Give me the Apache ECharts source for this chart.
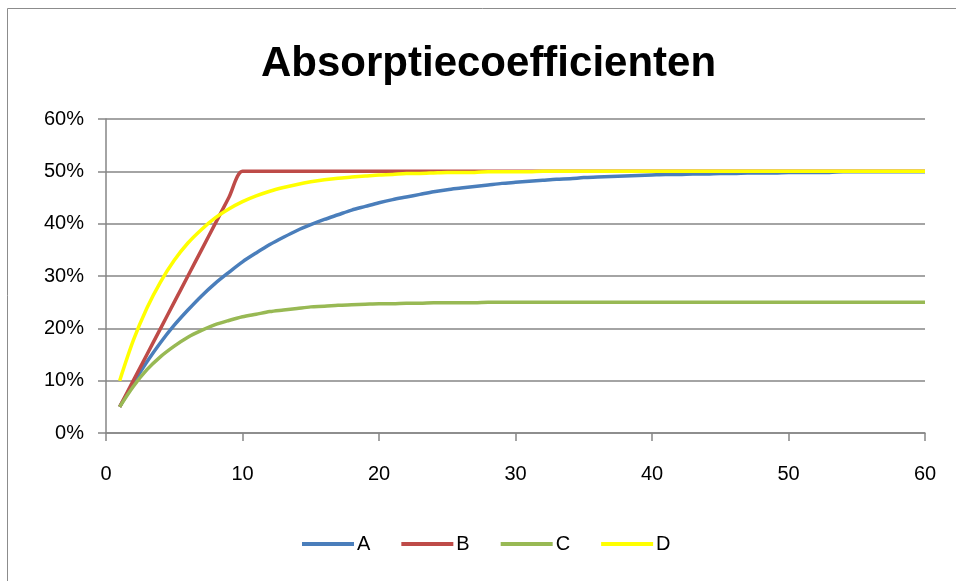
<!DOCTYPE html>
<html>
<head>
<meta charset="utf-8">
<script src="https://cdn.jsdelivr.net/npm/echarts@6/dist/echarts.min.js"></script>
<style>
html,body{margin:0;padding:0;background:#fff;}
#chart{width:956px;height:581px;}
</style>
</head>
<body>
<div id="chart"></div>
<script>
// x positions (1..60)
const xs = [];
for (let i = 1; i <= 60; i++) xs.push(i);

const seriesNames = ['A', 'B', 'C', 'D'];

const valuesA = [5.0, 9.5, 13.6, 17.3, 20.6, 23.5, 26.2, 28.6, 30.7, 32.7,
  34.4, 36.0, 37.4, 38.7, 39.8, 40.8, 41.7, 42.6, 43.3, 44.0,
  44.6, 45.1, 45.6, 46.1, 46.5, 46.8, 47.1, 47.4, 47.7, 47.9,
  48.1, 48.3, 48.5, 48.6, 48.8, 48.9, 49.0, 49.1, 49.2, 49.3,
  49.4, 49.4, 49.5, 49.5, 49.6, 49.6, 49.7, 49.7, 49.7, 49.8,
  49.8, 49.8, 49.8, 49.9, 49.9, 49.9, 49.9, 49.9, 49.9, 49.9];

const valuesB = [5, 10, 15, 20, 25, 30, 35, 40, 45, 50,
  50, 50, 50, 50, 50, 50, 50, 50, 50, 50,
  50, 50, 50, 50, 50, 50, 50, 50, 50, 50,
  50, 50, 50, 50, 50, 50, 50, 50, 50, 50,
  50, 50, 50, 50, 50, 50, 50, 50, 50, 50,
  50, 50, 50, 50, 50, 50, 50, 50, 50, 50];

const valuesC = [5.0, 8.9, 12.1, 14.6, 16.6, 18.3, 19.6, 20.7, 21.5, 22.2,
  22.7, 23.2, 23.5, 23.8, 24.1, 24.2, 24.4, 24.5, 24.6, 24.7,
  24.7, 24.8, 24.8, 24.9, 24.9, 24.9, 24.9, 25.0, 25.0, 25.0,
  25.0, 25.0, 25.0, 25.0, 25.0, 25.0, 25.0, 25.0, 25.0, 25.0,
  25.0, 25.0, 25.0, 25.0, 25.0, 25.0, 25.0, 25.0, 25.0, 25.0,
  25.0, 25.0, 25.0, 25.0, 25.0, 25.0, 25.0, 25.0, 25.0, 25.0];

const valuesD = [10.0, 17.7, 23.9, 28.9, 33.0, 36.3, 38.9, 41.1, 42.8, 44.2,
  45.3, 46.2, 46.9, 47.5, 48.0, 48.4, 48.7, 48.9, 49.1, 49.3,
  49.4, 49.6, 49.6, 49.7, 49.8, 49.8, 49.8, 49.9, 49.9, 49.9,
  49.9, 50.0, 50.0, 50.0, 50.0, 50.0, 50.0, 50.0, 50.0, 50.0,
  50.0, 50.0, 50.0, 50.0, 50.0, 50.0, 50.0, 50.0, 50.0, 50.0,
  50.0, 50.0, 50.0, 50.0, 50.0, 50.0, 50.0, 50.0, 50.0, 50.0];

const yTicks = [0, 10, 20, 30, 40, 50, 60];
const xTicks = [0, 10, 20, 30, 40, 50, 60];

const colors = ['#4A7EBB', '#BE4B48', '#98B954', '#FFFF00'];
const allValues = [valuesA, valuesB, valuesC, valuesD];

const chart = echarts.init(document.getElementById('chart'), null, {renderer: 'canvas'});
const font = '"Liberation Sans", Arial, sans-serif';

chart.setOption({
  animation: false,
  backgroundColor: '#fff',
  color: colors,
  graphic: [{
    type: 'rect',
    shape: {x: 7.5, y: 8.5, width: 960, height: 590},
    style: {fill: 'none', stroke: '#8c8c8c', lineWidth: 1},
    silent: true
  }],
  title: {
    text: 'Absorptiecoefficienten',
    left: 256,
    top: 38,
    textStyle: {fontFamily: font, fontWeight: 'bold', fontSize: 42, color: '#000'}
  },
  legend: {
    data: seriesNames,
    bottom: 22,
    left: 297,
    icon: 'rect',
    itemWidth: 52,
    itemHeight: 4,
    itemGap: 31,
    textStyle: {fontFamily: font, fontSize: 20, color: '#000', padding: [0, 0, 0, -2]}
  },
  grid: {left: 106, right: 31, top: 119, bottom: 148},
  xAxis: {
    type: 'value',
    min: xTicks[0],
    max: xTicks[xTicks.length - 1],
    interval: 10,
    axisLine: {show: true, lineStyle: {color: '#868686', width: 1.5}},
    axisTick: {show: true, length: 8, lineStyle: {color: '#868686', width: 1.5}},
    splitLine: {show: false},
    axisLabel: {fontFamily: font, fontSize: 20, color: '#000', margin: 31}
  },
  yAxis: {
    type: 'value',
    min: yTicks[0],
    max: yTicks[yTicks.length - 1],
    interval: 10,
    axisLine: {show: true, lineStyle: {color: '#868686', width: 1.5}},
    axisTick: {show: true, inside: false, length: 8, lineStyle: {color: '#868686', width: 1.5}},
    splitLine: {show: true, lineStyle: {color: '#868686', width: 1.5}},
    axisLabel: {fontFamily: font, fontSize: 20, color: '#000', margin: 22, formatter: '{value}%'}
  },
  series: seriesNames.map((name, k) => ({
    name: name,
    type: 'line',
    smooth: 0.3,
    symbol: 'none',
    lineStyle: {width: 3.5, color: colors[k]},
    data: xs.map((x, i) => [x, allValues[k][i]])
  }))
});
</script>
</body>
</html>
